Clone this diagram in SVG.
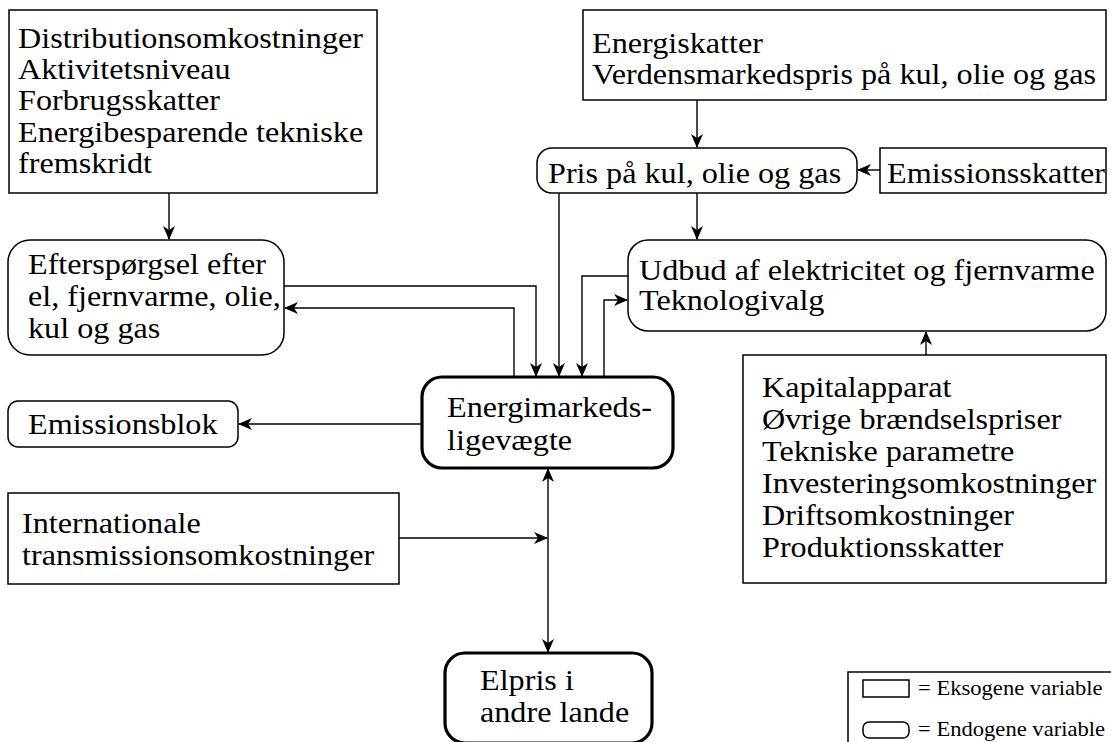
<svg xmlns="http://www.w3.org/2000/svg" width="1111" height="742" viewBox="0 0 1111 742">
<style>
.b{fill:#fff;stroke:#000;stroke-width:1.5}
.k{fill:#fff;stroke:#000;stroke-width:3.2}
.c{fill:none;stroke:#000;stroke-width:1.4}
</style>
<defs>
<marker id="a" markerUnits="userSpaceOnUse" markerWidth="14" markerHeight="12" refX="13" refY="6" orient="auto-start-reverse" viewBox="0 0 14 12">
<path d="M0,0 L14,6 L0,12 L4,6 z" fill="#000"/>
</marker>
</defs>
<rect width="1111" height="742" fill="#fff"/>
<g id="connectors">
<path class="c" d="M169,193 V239" marker-end="url(#a)"/>
<path class="c" d="M697,100 V147" marker-end="url(#a)"/>
<path class="c" d="M880,170 H858" marker-end="url(#a)"/>
<path class="c" d="M697,193 V239" marker-end="url(#a)"/>
<path class="c" d="M559,193 V376" marker-end="url(#a)"/>
<path class="c" d="M284,286 H536 V376" marker-end="url(#a)"/>
<path class="c" d="M514,377 V308 H285" marker-end="url(#a)"/>
<path class="c" d="M628,276 H582 V376" marker-end="url(#a)"/>
<path class="c" d="M604,377 V300 H627" marker-end="url(#a)"/>
<path class="c" d="M926,355 V332" marker-end="url(#a)"/>
<path class="c" d="M422,424 H239" marker-end="url(#a)"/>
<path class="c" d="M399,538 H547" marker-end="url(#a)"/>
<path class="c" d="M548,469 V652" marker-start="url(#a)" marker-end="url(#a)"/>
</g>
<g font-family="'Liberation Serif', serif" font-size="29" fill="#000">
<g id="n-exo-demand">
<rect class="b" x="9" y="10" width="368" height="183"/>
<text transform="matrix(1.11 0 0 1 18 48)">Distributionsomkostninger</text>
<text transform="matrix(1.11 0 0 1 18 79)">Aktivitetsniveau</text>
<text transform="matrix(1.11 0 0 1 18 110)">Forbrugsskatter</text>
<text transform="matrix(1.11 0 0 1 18 142)">Energibesparende tekniske</text>
<text transform="matrix(1.11 0 0 1 18 173)">fremskridt</text>
</g>
<g id="n-exo-prices">
<rect class="b" x="583" y="10" width="523" height="90"/>
<text transform="matrix(1.11 0 0 1 592 53)">Energiskatter</text>
<text transform="matrix(1.11 0 0 1 592 84)">Verdensmarkedspris på kul, olie og gas</text>
</g>
<g id="n-pris">
<rect class="b" x="537" y="148" width="320" height="45" rx="15"/>
<text transform="matrix(1.11 0 0 1 548 183)">Pris på kul, olie og gas</text>
</g>
<g id="n-emskat">
<rect class="b" x="880" y="148" width="226" height="45"/>
<text transform="matrix(1.11 0 0 1 887 183)">Emissionsskatter</text>
</g>
<g id="n-udbud">
<rect class="b" x="628" y="240" width="478" height="91" rx="20"/>
<text transform="matrix(1.11 0 0 1 639 280)">Udbud af elektricitet og fjernvarme</text>
<text transform="matrix(1.11 0 0 1 639 310)">Teknologivalg</text>
</g>
<g id="n-kapital">
<rect class="b" x="743" y="355" width="363" height="228"/>
<text transform="matrix(1.11 0 0 1 762 397)">Kapitalapparat</text>
<text transform="matrix(1.11 0 0 1 762 429)">Øvrige brændselspriser</text>
<text transform="matrix(1.11 0 0 1 762 461)">Tekniske parametre</text>
<text transform="matrix(1.11 0 0 1 762 493)">Investeringsomkostninger</text>
<text transform="matrix(1.11 0 0 1 762 525)">Driftsomkostninger</text>
<text transform="matrix(1.11 0 0 1 762 557)">Produktionsskatter</text>
</g>
<g id="n-eftersp">
<rect class="b" x="8" y="240" width="276" height="115" rx="22"/>
<text transform="matrix(1.11 0 0 1 28 274)">Efterspørgsel efter</text>
<text transform="matrix(1.11 0 0 1 28 306)">el, fjernvarme, olie,</text>
<text transform="matrix(1.11 0 0 1 28 338)">kul og gas</text>
</g>
<g id="n-emblok">
<rect class="b" x="8" y="401" width="230" height="46" rx="10"/>
<text transform="matrix(1.11 0 0 1 28 434)">Emissionsblok</text>
</g>
<g id="n-energi">
<rect class="k" x="422" y="377" width="251" height="91" rx="20"/>
<text transform="matrix(1.11 0 0 1 447 417)">Energimarkeds-</text>
<text transform="matrix(1.11 0 0 1 447 450)">ligevægte</text>
</g>
<g id="n-intl">
<rect class="b" x="8" y="493" width="391" height="91"/>
<text transform="matrix(1.11 0 0 1 22 533)">Internationale</text>
<text transform="matrix(1.11 0 0 1 22 565)">transmissionsomkostninger</text>
</g>
<g id="n-elpris">
<rect class="k" x="445" y="653" width="207" height="90" rx="20"/>
<text transform="matrix(1.11 0 0 1 480 690)">Elpris i</text>
<text transform="matrix(1.11 0 0 1 480 722)">andre lande</text>
</g>
<g id="legend" font-size="20">
<rect class="b" x="848" y="672" width="280" height="90"/>
<rect class="b" x="863" y="680" width="46" height="17"/>
<text transform="matrix(1.13 0 0 1 918 695)">= Eksogene variable</text>
<rect class="b" x="863" y="722" width="46" height="16" rx="6"/>
<text transform="matrix(1.13 0 0 1 918 736)">= Endogene variable</text>
</g>
</g>
</svg>
